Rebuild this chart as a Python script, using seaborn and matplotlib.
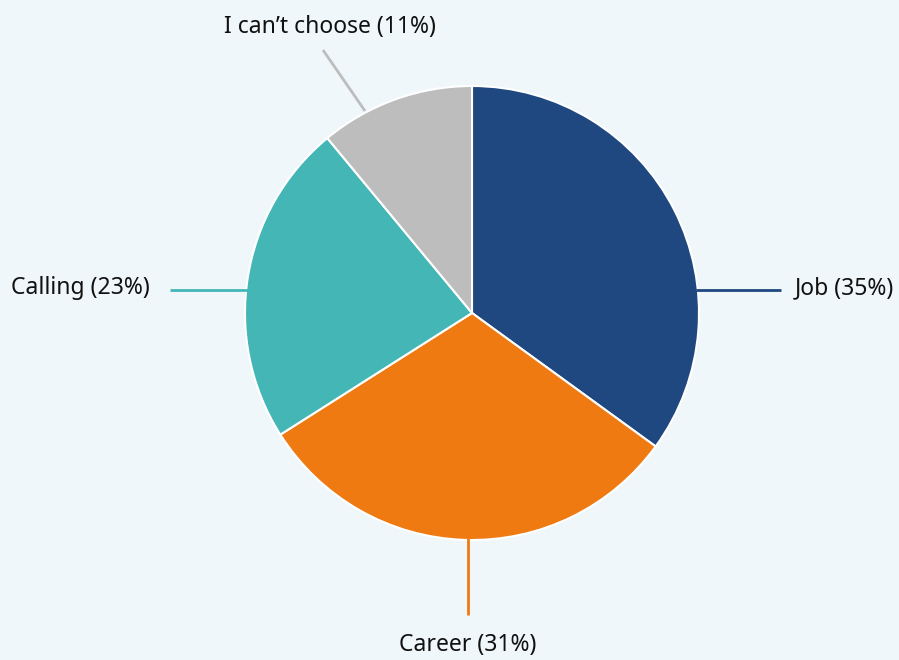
import numpy as np
import matplotlib
matplotlib.use("Agg")
import matplotlib.pyplot as plt
import seaborn as sns

categories = ["Job", "Career", "Calling", "I can\u2019t choose"]
shares = [35, 31, 23, 11]
colors = ["#1F4780", "#EF7A12", "#44B6B5", "#BDBDBD"]

sns.set_style("white")
plt.rcParams["font.family"] = ["Noto Sans", "DejaVu Sans"]

BG = "#EFF7FA"
W, H = 899, 660
fig = plt.figure(figsize=(W / 100, H / 100), dpi=100, facecolor=BG)
ax = fig.add_axes([0, 0, 1, 1])
ax.set_facecolor(BG)

cx, cy, r = 472, 347, 227
ax.pie(shares, colors=colors, startangle=90, counterclock=False,
       center=(cx, cy), radius=r, frame=True,
       wedgeprops=dict(edgecolor="white", linewidth=1.5))
ax.set_xlim(0, W)
ax.set_ylim(0, H)
ax.set_aspect("equal")
ax.axis("off")

labels = [f"{c} ({v}%)" for c, v in zip(categories, shares)]
fs = 16.5
tc = "#111111"

# Job: horizontal leader to the right
y = cy + 23
x0 = cx + np.sqrt(r**2 - 23**2)
ax.plot([x0 - 2, cx + 309], [y, y], color=colors[0], lw=2, solid_capstyle="butt")
ax.text(cx + 323, y + 2, labels[0], ha="left", va="center", fontsize=fs, color=tc)

# Career: vertical leader below
x = cx - 4
ax.plot([x, x], [cy - r + 2, cy - r - 75], color=colors[1], lw=2, solid_capstyle="butt")
ax.text(x, cy - r - 105, labels[1], ha="center", va="center", fontsize=fs, color=tc)

# Calling: horizontal leader to the left
x1 = cx - np.sqrt(r**2 - 23**2)
ax.plot([x1 + 2, cx - 302], [y, y], color=colors[2], lw=2, solid_capstyle="butt")
ax.text(cx - 322, y + 2, labels[2], ha="right", va="center", fontsize=fs, color=tc)

# I can't choose: slanted leader up-left
ax.plot([cx - 107, cx - 149], [cy + 202, cy + 263], color=colors[3], lw=2, solid_capstyle="butt")
ax.text(cx - 142, cy + 286, labels[3], ha="center", va="center", fontsize=fs, color=tc)

fig.savefig("out.png", dpi=100, facecolor=BG)
